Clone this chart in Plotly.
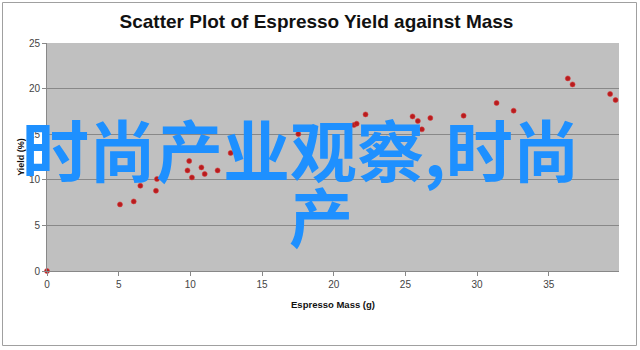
import plotly.graph_objects as go

# Data
espresso_mass = [0.0, 5.09, 6.05, 6.51, 7.60, 7.67, 9.92, 9.80, 10.11, 10.77, 11.00,
                 11.90, 12.81, 17.53, 21.41, 21.60, 22.22, 25.50, 25.87, 26.15, 26.74,
                 29.06, 31.36, 32.55, 36.33, 36.66, 39.28, 39.66]
yield_pct = [0.0, 7.30, 7.63, 9.35, 8.80, 10.09, 12.06, 11.03, 10.26, 11.36, 10.64,
             11.03, 12.94, 15.02, 16.01, 16.15, 17.17, 16.95, 16.45, 15.53, 16.78,
             17.03, 18.42, 17.58, 21.12, 20.46, 19.41, 18.75]
x_ticks = [0, 5, 10, 15, 20, 25, 30, 35]
y_ticks = [0, 5, 10, 15, 20, 25]

title_text = "Scatter Plot of Espresso Yield against Mass"
x_title = "Espresso Mass (g)"
y_title = "Yield (%)"
watermark_line1 = "时尚产业观察,时尚"
watermark_line2 = "产"

FONT = "Liberation Sans, Arial, sans-serif"

fig = go.Figure()
fig.add_trace(go.Scatter(
    x=espresso_mass, y=yield_pct, mode="markers",
    marker=dict(color="#b81c1e", size=5, line=dict(width=0.8, color="rgba(215,60,60,0.7)")),
    cliponaxis=False, showlegend=False, hoverinfo="skip",
))

fig.update_layout(
    width=640, height=350,
    margin=dict(l=47, r=21, t=43, b=79, autoexpand=False),
    paper_bgcolor="white",
    plot_bgcolor="#c0c0c0",
    title=dict(text="<b>" + title_text + "</b>", x=316.5 / 640, xanchor="center",
               y=1 - 21 / 350, yanchor="middle", xref="container", yref="container",
               font=dict(family=FONT, size=19, color="#111111")),
    font=dict(family=FONT, size=10, color="#444444"),
)
fig.update_xaxes(
    range=[0, 39.9], tickvals=x_ticks, ticktext=[str(v) for v in x_ticks],
    showgrid=False, zeroline=False,
    showline=True, linecolor="#888888", linewidth=1,
    ticks="outside", ticklen=4, tickcolor="#888888",
    tickfont=dict(family=FONT, size=10, color="#444444"),
    title=dict(text="<b>" + x_title + "</b>", standoff=12,
               font=dict(family=FONT, size=9.5, color="#111111")),
)
fig.update_yaxes(
    range=[0, 25], tickvals=y_ticks, ticktext=[str(v) for v in y_ticks],
    showgrid=True, gridcolor="#888888", gridwidth=1, zeroline=False,
    showline=True, linecolor="#888888", linewidth=1,
    ticks="outside", ticklen=4, tickcolor="#888888",
    tickfont=dict(family=FONT, size=10, color="#444444"),
    title=dict(text="<b>" + y_title + "</b>", standoff=2,
               font=dict(family=FONT, size=9, color="#111111")),
)

# Outer chart border
fig.add_shape(type="rect", xref="paper", yref="paper",
              x0=(2.5 - 47) / 572, x1=(636.5 - 47) / 572,
              y0=(271 - 345.5) / 228, y1=(271 - 2.5) / 228,
              line=dict(color="#a0a0a0", width=1), fillcolor="rgba(0,0,0,0)", layer="below")

# Watermark text
WM_FONT = "Noto Sans CJK SC"
fig.add_annotation(text="<b>" + watermark_line1 + "</b>", xref="paper", yref="paper",
                   x=(301 - 47) / 572, y=(271 - 147) / 228, xanchor="center", yanchor="middle",
                   showarrow=False, font=dict(family=WM_FONT, size=67, color="#1e90ff"))
fig.add_annotation(text="<b>" + watermark_line2 + "</b>", xref="paper", yref="paper",
                   x=(321 - 47) / 572, y=(271 - 214) / 228, xanchor="center", yanchor="middle",
                   showarrow=False, font=dict(family=WM_FONT, size=64, color="#1e90ff"))

fig.write_html("out.html")
